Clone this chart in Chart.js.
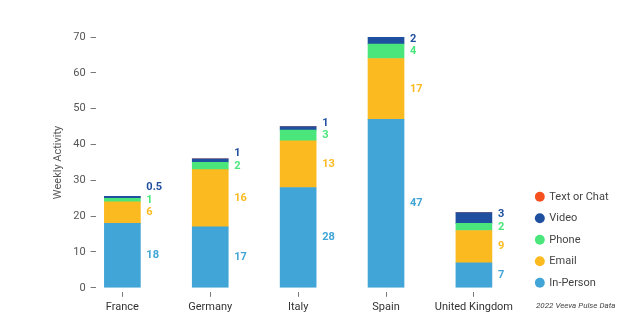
<!DOCTYPE html>
<html>
<head>
<meta charset="utf-8">
<script src="https://cdn.jsdelivr.net/npm/chart.js@4.4.1/dist/chart.umd.min.js"></script>
<style>
  html, body { margin: 0; padding: 0; background: #ffffff; }
  #wrap { width: 640px; height: 336px; position: relative; }
</style>
</head>
<body>
<div id="wrap"><canvas id="chart" width="640" height="336"></canvas></div>
<script>
// Weekly activity per channel, by country
const countries = ['France', 'Germany', 'Italy', 'Spain', 'United Kingdom'];
const inPerson   = [18, 17, 28, 47, 7];
const email      = [6, 16, 13, 17, 9];
const phone      = [1, 2, 3, 4, 2];
const video      = [0.5, 1, 1, 2, 3];
const textOrChat = [0, 0, 0, 0, 0];
const yTicks     = [0, 10, 20, 30, 40, 50, 60, 70];
const sourceNote = '2022 Veeva Pulse Data';

const FONT = 'Roboto, "Noto Sans", sans-serif';

const series = [
  { label: 'In-Person',    values: inPerson,   color: '#41a5d7' },
  { label: 'Email',        values: email,      color: '#fbba1f' },
  { label: 'Phone',        values: phone,      color: '#4ae67c' },
  { label: 'Video',        values: video,      color: '#1f4f9f' },
  { label: 'Text or Chat', values: textOrChat, color: '#f4511e' }
];

// Value labels to the right of each segment, nudged apart when segments are thin
const segmentLabels = {
  id: 'segmentLabels',
  afterDatasetsDraw(chart) {
    const ctx = chart.ctx;
    ctx.save();
    ctx.font = 'bold 11px ' + FONT;
    ctx.textAlign = 'left';
    ctx.textBaseline = 'middle';
    countries.forEach((_, i) => {
      let lastY = Infinity;
      chart.data.datasets.forEach((ds, d) => {
        const v = ds.data[i].y;
        if (!v) return;
        const bar = chart.getDatasetMeta(d).data[i];
        const mid = (bar.y + bar.base) / 2;
        const y = Math.min(mid, lastY - 12.5);
        lastY = y;
        ctx.fillStyle = ds.backgroundColor;
        ctx.fillText(String(v), bar.x + bar.width / 2 + 6, y);
      });
    });
    ctx.restore();
  }
};

// Keep the legend stack ending just below the baseline, above the source note
const legendBottom = {
  id: 'legendBottom',
  afterLayout(chart) {
    if (chart.legend) chart.legend.bottom = chart.chartArea.bottom + 11;
  }
};

// Source note under the legend
const sourceText = {
  id: 'sourceText',
  afterDraw(chart) {
    const ctx = chart.ctx;
    ctx.save();
    ctx.font = 'italic 8px ' + FONT;
    ctx.fillStyle = '#444';
    ctx.textAlign = 'left';
    ctx.textBaseline = 'middle';
    ctx.fillText(sourceNote, 536, 306);
    ctx.restore();
  }
};

new Chart(document.getElementById('chart'), {
  type: 'bar',
  data: {
    datasets: series.map(s => ({
      label: s.label,
      data: s.values.map((v, i) => ({ x: i, y: v })),
      backgroundColor: s.color,
      borderWidth: 0,
      barThickness: 36
    }))
  },
  options: {
    responsive: false,
    animation: false,
    devicePixelRatio: 1,
    layout: { padding: { left: 41, top: 37, right: 21.5, bottom: 18 } },
    scales: {
      x: {
        type: 'linear',
        stacked: true,
        offset: false,
        min: -0.305,
        max: 4.585,
        afterBuildTicks: s => { s.ticks = countries.map((_, i) => ({ value: i })); },
        ticks: {
          callback: v => countries[v],
          color: '#333',
          font: { family: FONT, size: 11 },
          padding: 4,
          maxRotation: 0,
          autoSkip: false
        },
        grid: {
          offset: false,
          drawOnChartArea: false,
          drawTicks: true,
          tickLength: 9,
          tickColor: '#777',
          tickBorderDash: [0, 4, 5, 20]
        },
        border: { display: false }
      },
      y: {
        stacked: true,
        min: 0,
        max: 70,
        afterBuildTicks: s => { s.ticks = yTicks.map(v => ({ value: v })); },
        ticks: {
          color: '#555',
          font: { family: FONT, size: 11 },
          padding: 5
        },
        grid: {
          drawOnChartArea: false,
          drawTicks: true,
          tickLength: 5,
          tickColor: '#777'
        },
        border: { display: false },
        title: {
          display: true,
          text: 'Weekly Activity',
          color: '#555',
          font: { family: FONT, size: 11 },
          padding: { top: 11, bottom: 3 }
        }
      }
    },
    plugins: {
      legend: {
        position: 'right',
        align: 'end',
        fullSize: true,
        reverse: true,
        labels: {
          usePointStyle: true,
          pointStyle: 'circle',
          boxWidth: 8,
          boxHeight: 7,
          padding: 10.5,
          color: '#444',
          font: { family: FONT, size: 11 }
        }
      },
      tooltip: { enabled: false }
    }
  },
  plugins: [segmentLabels, legendBottom, sourceText]
});
</script>
</body>
</html>
